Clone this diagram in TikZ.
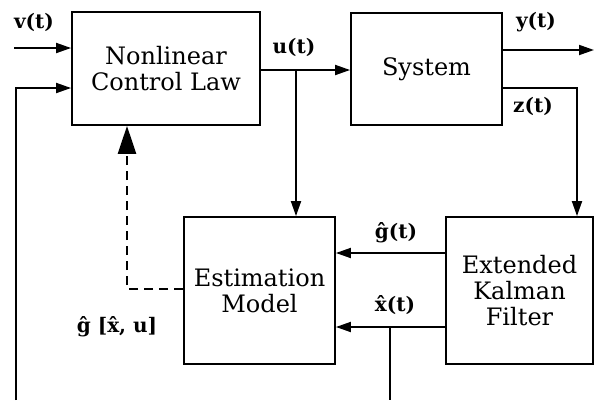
\documentclass[tikz,border=0pt]{standalone}
\usepackage{fontspec}
\setmainfont{DejaVu Serif}
\usetikzlibrary{arrows.meta}
\begin{document}
\begin{tikzpicture}[x=1pt,y=-1pt,
  blk/.style={draw,line width=1.8pt,inner sep=0pt,align=center,
    font=\fontsize{24}{26}\selectfont},
  arr/.style={line width=1.8pt,-{Triangle[length=15pt,width=10pt]}},
  ln/.style={line width=1.8pt},
  dsh/.style={line width=2.6pt,dash pattern=on 9pt off 6pt,
    -{Triangle[length=28pt,width=18pt]}},
  lab/.style={font=\fontsize{20}{20}\selectfont\bfseries,inner sep=0pt}]
\useasboundingbox (0,0) rectangle (595,400);
% blocks
\node[blk,minimum width=188pt,minimum height=113pt] (ncl) at (166,68.5) {Nonlinear\\Control Law};
\node[blk,minimum width=151pt,minimum height=112pt] (sys) at (426.5,69) {System};
\node[blk,minimum width=151pt,minimum height=147pt] (em) at (259.5,290.5) {Estimation\\Model};
\node[blk,minimum width=147pt,minimum height=147pt] (ekf) at (519.5,290.5) {Extended\\Kalman\\Filter};
% coordinates
\coordinate (vin) at (14,48);
\coordinate (fbb) at (16,400);
\coordinate (fbt) at (16,88);
\coordinate (ub) at (296,70);
\coordinate (yout) at (594,50);
\coordinate (zc) at (577,88);
\coordinate (xb) at (390,327);
\coordinate (xbb) at (390,400);
\coordinate (dc) at (127,289);
% connectors
\draw[arr] (vin) -- (vin -| ncl.west);
\draw[arr] (fbb) -- (fbt) -- (fbt -| ncl.west);
\draw[arr] (ncl.east |- ub) -- (sys.west |- ub);
\draw[arr] (ub) -- (ub |- em.north);
\draw[arr] (sys.east |- yout) -- (yout);
\draw[arr] (sys.east |- zc) -- (zc) -- (zc |- ekf.north);
\draw[arr] (ekf.west |- 0,253) -- (em.east |- 0,253);
\draw[arr] (ekf.west |- xb) -- (em.east |- xb);
\draw[ln] (xb) -- (xbb);
\draw[dsh] (em.west |- dc) -- (dc) -- (dc |- ncl.south);
% labels
\node[lab] (lv) at (34,22) {v(t)};
\node[lab] (lu) at (294,47) {u(t)};
\node[lab] (ly) at (536,22) {y(t)};
\node[lab] (lz) at (533,106) {z(t)};
\node[lab] (lg) at (396,233) {\^{g}(t)};
\node[lab] (lx) at (395,305) {\^{x}(t)};
\node[lab] (lgx) at (117,327) {\^{g} [\^{x}, u]};
\end{tikzpicture}
\end{document}
